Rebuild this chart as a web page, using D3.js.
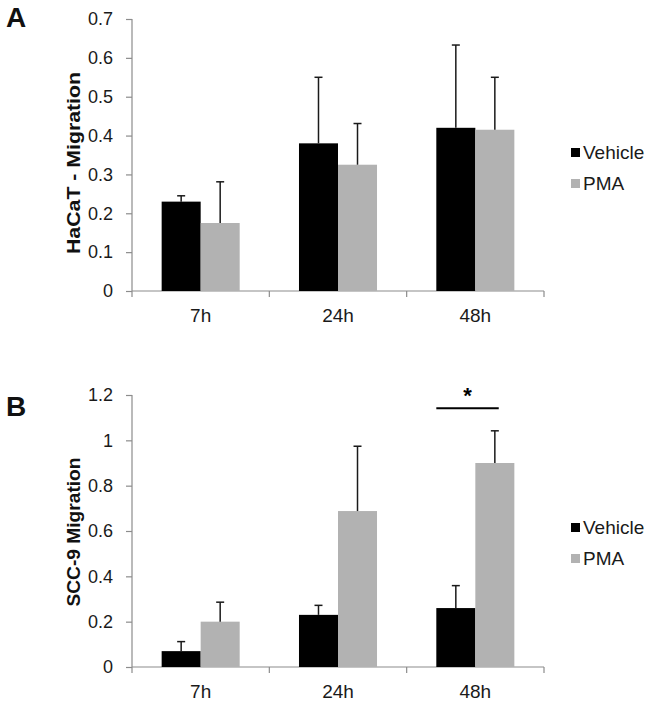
<!DOCTYPE html>
<html>
<head>
<meta charset="utf-8">
<script src="https://cdn.jsdelivr.net/npm/d3@7"></script>
<style>
  body { margin: 0; background: #fff; }
  svg { display: block; font-family: "Liberation Sans", Arial, sans-serif; }
</style>
</head>
<body>
<svg id="chart" width="652" height="704"></svg>
<script>
// ---------- data ----------
const categories = ["7h", "24h", "48h"];
const seriesNames = ["Vehicle", "PMA"];

// Panel A: HaCaT
const hacatVehicle = [0.23, 0.38, 0.42];
const hacatVehicleErr = [0.015, 0.17, 0.213];
const hacatPMA = [0.175, 0.325, 0.415];
const hacatPMAErr = [0.106, 0.106, 0.135];
const hacatTicks = [0, 0.1, 0.2, 0.3, 0.4, 0.5, 0.6, 0.7];
const hacatTickLabels = ["0", "0.1", "0.2", "0.3", "0.4", "0.5", "0.6", "0.7"];

// Panel B: SCC-9
const sccVehicle = [0.07, 0.23, 0.26];
const sccVehicleErr = [0.042, 0.042, 0.099];
const sccPMA = [0.2, 0.688, 0.9];
const sccPMAErr = [0.086, 0.286, 0.142];
const sccTicks = [0, 0.2, 0.4, 0.6, 0.8, 1, 1.2];
const sccTickLabels = ["0", "0.2", "0.4", "0.6", "0.8", "1", "1.2"];

const seriesColors = ["#000000", "#b2b2b2"];

const svg = d3.select("#chart");

function drawPanel(opts) {
  const g = svg.append("g");
  const x0 = d3.scaleBand().domain(categories).range([132, 544]).paddingInner(0).paddingOuter(0);
  const x1 = d3.scaleBand().domain(seriesNames).range([0, x0.bandwidth()]).paddingInner(0).paddingOuter(0.76);
  const y = d3.scaleLinear().domain(opts.domain).range([opts.bottom, opts.top]);

  // axes
  const yAxis = d3.axisLeft(y).tickValues(opts.ticks)
    .tickFormat((d, i) => opts.tickLabels[i]).tickSize(6).tickPadding(13);
  const ya = g.append("g").attr("transform", "translate(132,0)").call(yAxis);
  ya.select(".domain").attr("stroke", "#8c8c8c").attr("stroke-width", 1.2)
    .attr("d", `M0,${opts.top}V${opts.bottom + 6}`);
  ya.selectAll(".tick line").attr("stroke", "#8c8c8c").attr("stroke-width", 1.2);
  ya.selectAll(".tick text").attr("font-size", 18).attr("fill", "#1a1a1a")
    .attr("font-family", "Liberation Sans, Arial, sans-serif");

  const xa = g.append("g").attr("transform", `translate(0,${opts.bottom})`);
  xa.append("line").attr("x1", 132).attr("x2", 544).attr("y1", 0).attr("y2", 0)
    .attr("stroke", "#8c8c8c").attr("stroke-width", 1.2);
  const bounds = categories.map(c => x0(c) + x0.bandwidth());
  xa.selectAll("line.xt").data(bounds).enter().append("line").attr("class", "xt")
    .attr("x1", d => d).attr("x2", d => d).attr("y1", 0).attr("y2", 6)
    .attr("stroke", "#8c8c8c").attr("stroke-width", 1.2);
  xa.selectAll("text").data(categories).enter().append("text")
    .attr("x", d => x0(d) + x0.bandwidth() / 2).attr("y", 31)
    .attr("text-anchor", "middle").attr("font-size", 19).attr("fill", "#1a1a1a")
    .text(d => d);

  // bars
  const rows = [];
  categories.forEach((c, i) => {
    rows.push({ cat: c, s: "Vehicle", v: opts.vehicle[i], e: opts.vehicleErr[i], col: seriesColors[0] });
    rows.push({ cat: c, s: "PMA", v: opts.pma[i], e: opts.pmaErr[i], col: seriesColors[1] });
  });
  g.selectAll("rect.bar").data(rows).enter().append("rect").attr("class", "bar")
    .attr("x", d => x0(d.cat) + x1(d.s)).attr("width", x1.bandwidth())
    .attr("y", d => y(d.v)).attr("height", d => y(0) - y(d.v))
    .attr("fill", d => d.col);

  // error bars
  const cx = d => x0(d.cat) + x1(d.s) + x1.bandwidth() / 2;
  g.selectAll("line.err").data(rows).enter().append("line").attr("class", "err")
    .attr("x1", cx).attr("x2", cx).attr("y1", d => y(d.v)).attr("y2", d => y(d.v + d.e))
    .attr("stroke", "#1a1a1a").attr("stroke-width", 1.5);
  g.selectAll("line.cap").data(rows).enter().append("line").attr("class", "cap")
    .attr("x1", d => cx(d) - 4).attr("x2", d => cx(d) + 4)
    .attr("y1", d => y(d.v + d.e)).attr("y2", d => y(d.v + d.e))
    .attr("stroke", "#1a1a1a").attr("stroke-width", 1.5);

  // y title
  g.append("text")
    .attr("transform", `translate(${opts.titleX},${opts.titleY}) rotate(-90)`)
    .attr("text-anchor", "middle").attr("font-weight", "bold").attr("font-size", 19)
    .attr("textLength", opts.titleLen).attr("lengthAdjust", "spacingAndGlyphs")
    .attr("fill", "#111").text(opts.title);

  // panel letter
  g.append("text").attr("x", 6).attr("y", opts.letterY).attr("font-weight", "bold")
    .attr("font-size", 28).attr("fill", "#111").text(opts.letter);

  // legend
  const lg = g.append("g");
  seriesNames.forEach((s, i) => {
    const ly = opts.legendY + i * 31;
    lg.append("rect").attr("x", 571).attr("y", ly).attr("width", 9).attr("height", 9)
      .attr("fill", seriesColors[i]);
    lg.append("text").attr("x", 583).attr("y", ly + 11).attr("font-size", 19)
      .attr("fill", "#1a1a1a").text(s);
  });

  return { x0, x1, y, g };
}

drawPanel({
  domain: [0, 0.7], top: 19, bottom: 291, ticks: hacatTicks, tickLabels: hacatTickLabels,
  vehicle: hacatVehicle, vehicleErr: hacatVehicleErr, pma: hacatPMA, pmaErr: hacatPMAErr,
  title: "HaCaT - Migration", titleX: 80, titleY: 163, titleLen: 182,
  letter: "A", letterY: 27, legendY: 148
});

const pB = drawPanel({
  domain: [0, 1.2], top: 395, bottom: 667, ticks: sccTicks, tickLabels: sccTickLabels,
  vehicle: sccVehicle, vehicleErr: sccVehicleErr, pma: sccPMA, pmaErr: sccPMAErr,
  title: "SCC-9 Migration", titleX: 80, titleY: 532, titleLen: 149,
  letter: "B", letterY: 416, legendY: 523
});

// significance marker over 48h in panel B
const sigLevel = 1.142;
const sx0 = pB.x0("48h") + pB.x1("Vehicle");
const sx1 = pB.x0("48h") + pB.x1("PMA") + pB.x1.bandwidth() * 0.6;
pB.g.append("line").attr("x1", sx0).attr("x2", sx1)
  .attr("y1", pB.y(sigLevel)).attr("y2", pB.y(sigLevel))
  .attr("stroke", "#000").attr("stroke-width", 2);
pB.g.append("text").attr("x", (sx0 + sx1) / 2).attr("y", pB.y(sigLevel) - 5)
  .attr("text-anchor", "middle").attr("font-weight", "bold").attr("font-size", 22)
  .attr("fill", "#000").text("*");
</script>
</body>
</html>
